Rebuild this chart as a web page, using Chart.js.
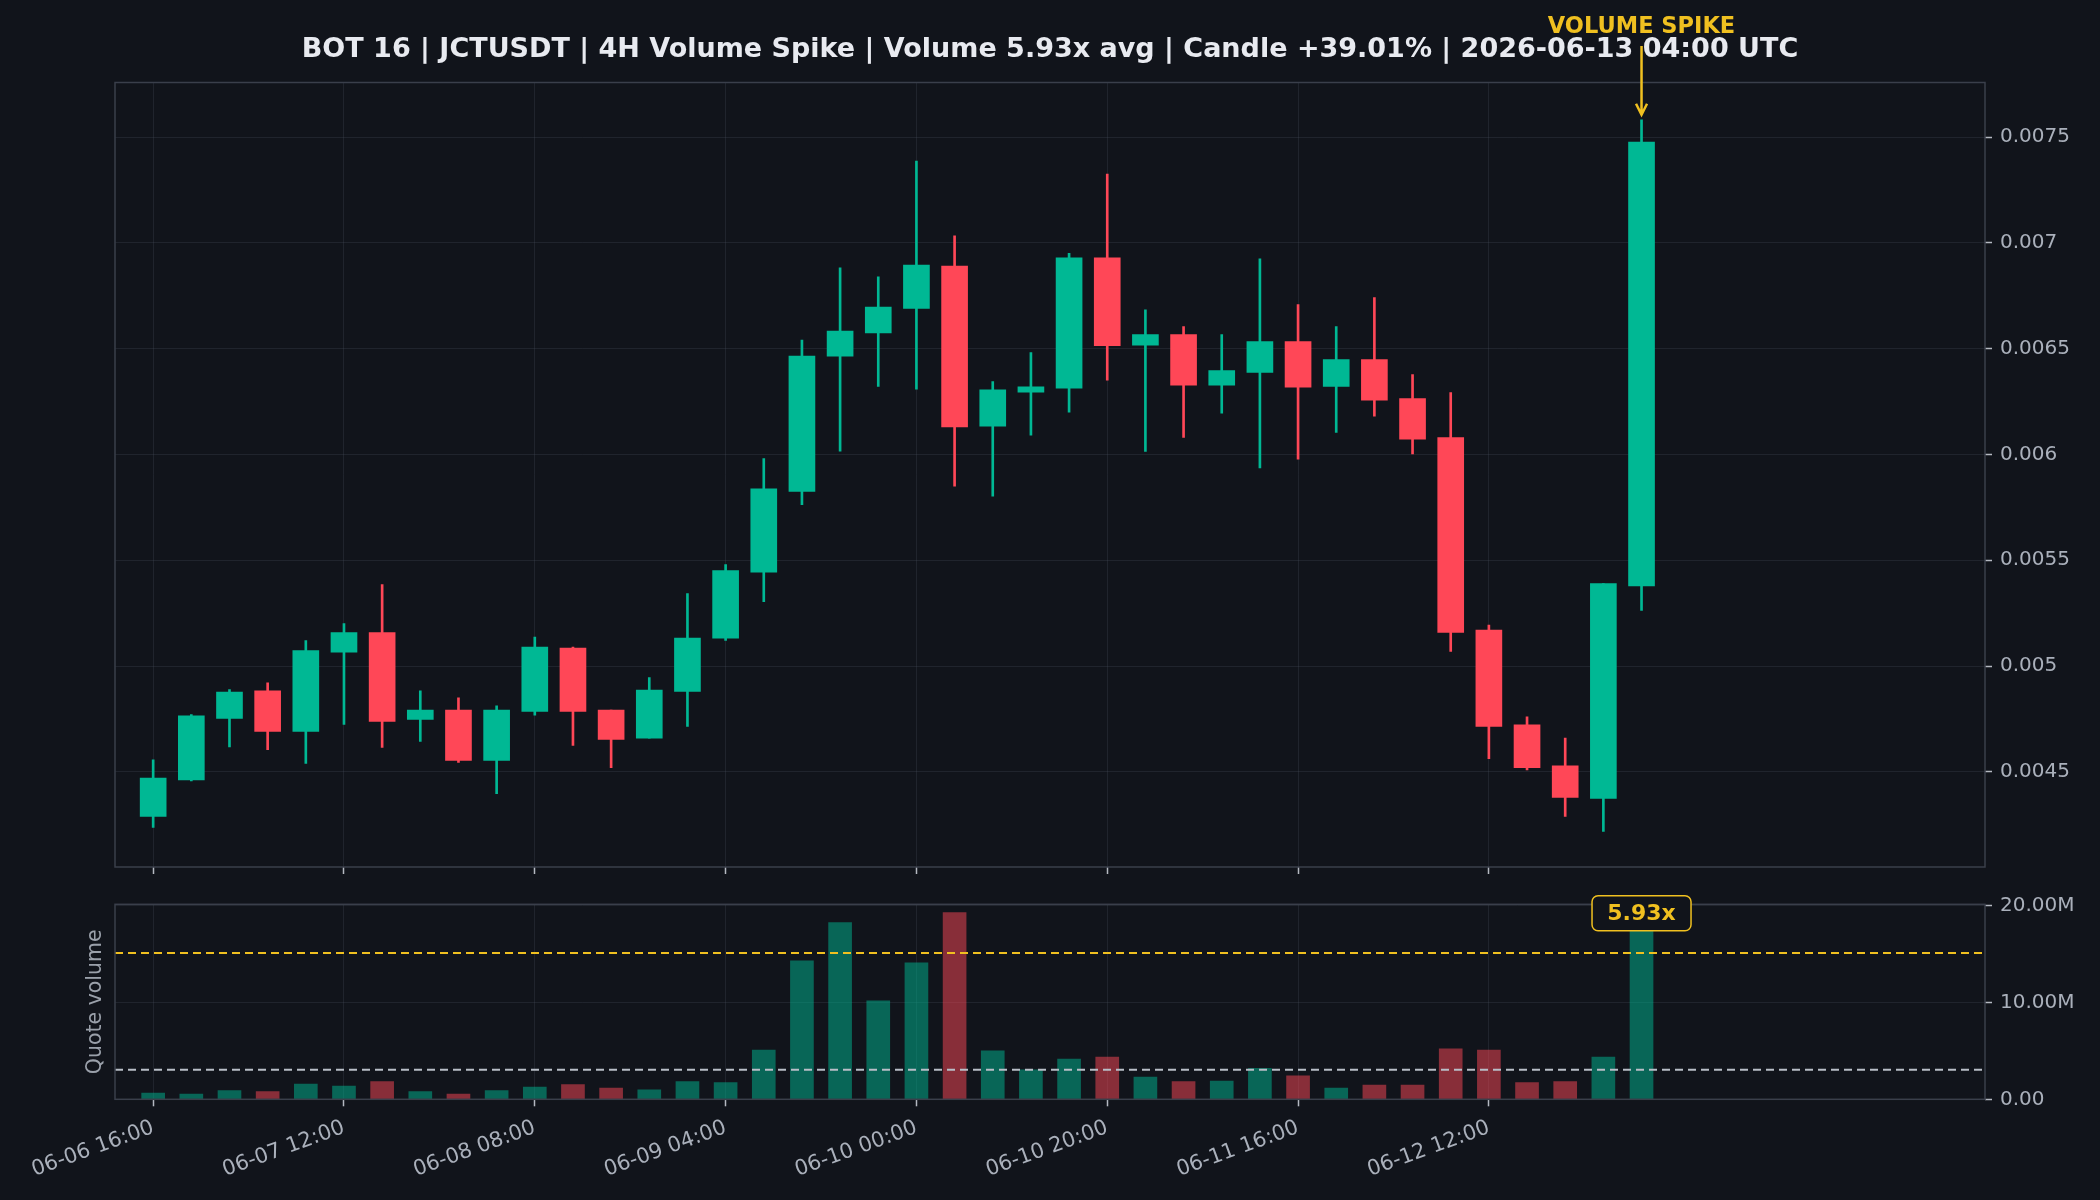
<!DOCTYPE html>
<html>
<head>
<meta charset="utf-8">
<title>JCTUSDT 4H Volume Spike</title>
<script src="https://cdn.jsdelivr.net/npm/chart.js@4.4.1/dist/chart.umd.min.js"></script>
<style>
  html, body { margin: 0; padding: 0; background: #11141b; }
  #wrap { position: relative; width: 2100px; height: 1200px; background: #11141b; overflow: hidden; }
  canvas { position: absolute; left: 0; }
  #priceChart { top: 0; }
  #volumeChart { top: 880px; }
</style>
</head>
<body>
<div id="wrap">
  <canvas id="priceChart" width="2100" height="880"></canvas>
  <canvas id="volumeChart" width="2100" height="320"></canvas>
</div>
<script>
const titleText = "BOT 16 | JCTUSDT | 4H Volume Spike | Volume 5.93x avg | Candle +39.01% | 2026-06-13 04:00 UTC";
const spikeText = "VOLUME SPIKE";
const ratioText = "5.93x";
const volumeAxisTitle = "Quote volume";

// 4H candles, 06-06 16:00 -> 06-13 04:00
const opens = [
  0.004289, 0.004462, 0.004752, 0.004883, 0.004691, 0.005065, 0.005158, 0.004748, 0.004792, 0.004554,
  0.004785, 0.005085, 0.004792, 0.004659, 0.004880, 0.005131, 0.005443, 0.005825, 0.006464, 0.006574,
  0.006690, 0.006890, 0.006134, 0.006294, 0.006313, 0.006929, 0.006516, 0.006566, 0.006327, 0.006388,
  0.006533, 0.006322, 0.006448, 0.006264, 0.006080, 0.005170, 0.004722, 0.004528, 0.004374, 0.005378
];
const highs = [
  0.004557, 0.004770, 0.004888, 0.004921, 0.005120, 0.005200, 0.005385, 0.004883, 0.004850, 0.004812,
  0.005137, 0.005090, 0.004792, 0.004945, 0.005342, 0.005480, 0.005980, 0.006541, 0.006882, 0.006840,
  0.007387, 0.007033, 0.006344, 0.006481, 0.006951, 0.007325, 0.006684, 0.006604, 0.006566, 0.006925,
  0.006708, 0.006604, 0.006741, 0.006377, 0.006292, 0.005194, 0.004760, 0.004659, 0.005390, 0.007582
];
const lows = [
  0.004237, 0.004457, 0.004618, 0.004604, 0.004539, 0.004724, 0.004615, 0.004644, 0.004544, 0.004397,
  0.004768, 0.004625, 0.004520, 0.004659, 0.004715, 0.005121, 0.005304, 0.005763, 0.006016, 0.006322,
  0.006308, 0.005850, 0.005803, 0.006091, 0.006200, 0.006351, 0.006014, 0.006080, 0.006195, 0.005936,
  0.005978, 0.006104, 0.006181, 0.006002, 0.005069, 0.004562, 0.004509, 0.004289, 0.004218, 0.005263
];
const closes = [
  0.004470, 0.004765, 0.004877, 0.004691, 0.005073, 0.005158, 0.004738, 0.004792, 0.004554, 0.004792,
  0.005090, 0.004785, 0.004653, 0.004886, 0.005132, 0.005451, 0.005838, 0.006465, 0.006583, 0.006697,
  0.006895, 0.006130, 0.006305, 0.006320, 0.006929, 0.006514, 0.006566, 0.006327, 0.006396, 0.006533,
  0.006318, 0.006448, 0.006256, 0.006072, 0.005159, 0.004715, 0.004520, 0.004379, 0.005390, 0.007476
];
// quote volume, millions
const quoteVolumeM = [
  0.65, 0.55, 0.89, 0.79, 1.58, 1.37, 1.82, 0.79, 0.55, 0.89,
  1.27, 1.51, 1.17, 0.99, 1.82, 1.72, 5.09, 14.29, 18.25, 10.16,
  14.08, 19.28, 5.00, 3.03, 4.16, 4.37, 2.30, 1.82, 1.89, 3.20,
  2.41, 1.17, 1.48, 1.48, 5.20, 5.09, 1.72, 1.82, 4.37, 17.97
];
const avgVolumeM = 3.05;
const spikeLevelM = 15.1;

const xTickIndex = [0, 5, 10, 15, 20, 25, 30, 35];
const xTickLabels = ["06-06 16:00", "06-07 12:00", "06-08 08:00", "06-09 04:00", "06-10 00:00", "06-10 20:00", "06-11 16:00", "06-12 12:00"];
const priceTicks = [0.0045, 0.005, 0.0055, 0.006, 0.0065, 0.007, 0.0075];
const priceTickLabels = ["0.0045", "0.005", "0.0055", "0.006", "0.0065", "0.007", "0.0075"];
const volumeTicks = [0, 10, 20];
const volumeTickLabels = ["0.00", "10.00M", "20.00M"];

const colorsMap = {
  up: "#00b894",
  down: "#ff4757",
  upVol: "rgba(0,184,148,0.5)",
  downVol: "rgba(255,71,87,0.5)",
  spike: "#f0c020",
  avg: "#b9bec8",
  grid: "rgba(70,76,88,0.3)",
  tickMark: "#b5b9c2",
  frame: "#3a3f4b",
  tickText: "#aab0bb",
  title: "#e8eaf0",
  bg: "#11141b"
};

Chart.defaults.font.family = "'DejaVu Sans', sans-serif";

const isUp = closes.map((c, i) => c >= opens[i]);
const candleColors = isUp.map(u => u ? colorsMap.up : colorsMap.down);
const volumeColors = isUp.map(u => u ? colorsMap.upVol : colorsMap.downVol);
const lastIdx = opens.length - 1;

const framePlugin = {
  id: "frame",
  afterDraw(chart) {
    const a = chart.chartArea;
    const ctx = chart.ctx;
    ctx.save();
    ctx.strokeStyle = colorsMap.frame;
    ctx.lineWidth = 1.5;
    ctx.strokeRect(a.left, a.top, a.right - a.left, a.bottom - a.top);
    ctx.restore();
  }
};

const priceOverlay = {
  id: "priceOverlay",
  afterDraw(chart) {
    const ctx = chart.ctx;
    const x = chart.scales.x.getPixelForValue(lastIdx);
    const tipY = chart.scales.y.getPixelForValue(highs[lastIdx]) - 5;
    ctx.save();
    ctx.textAlign = "center";
    ctx.textBaseline = "alphabetic";
    ctx.fillStyle = colorsMap.title;
    ctx.font = "bold 27px 'DejaVu Sans'";
    ctx.fillText(titleText, 1050, 57);

    ctx.fillStyle = colorsMap.spike;
    ctx.font = "bold 22.5px 'DejaVu Sans'";
    ctx.fillText(spikeText, x, 33);

    ctx.strokeStyle = colorsMap.spike;
    ctx.lineWidth = 2.5;
    ctx.beginPath();
    ctx.moveTo(x, 46);
    ctx.lineTo(x, tipY);
    ctx.moveTo(x - 5.5, tipY - 11);
    ctx.lineTo(x, tipY);
    ctx.lineTo(x + 5.5, tipY - 11);
    ctx.stroke();
    ctx.restore();
  }
};

const volumeOverlay = {
  id: "volumeOverlay",
  afterDraw(chart) {
    const ctx = chart.ctx;
    const a = chart.chartArea;
    const x = chart.scales.x.getPixelForValue(lastIdx);
    const cy = chart.scales.y.getPixelForValue(quoteVolumeM[lastIdx]) - 12;
    const w = 99, h = 35;
    ctx.save();
    ctx.beginPath();
    ctx.roundRect(x - w / 2, cy - h / 2, w, h, 6);
    ctx.fillStyle = colorsMap.bg;
    ctx.fill();
    ctx.strokeStyle = colorsMap.spike;
    ctx.lineWidth = 1.5;
    ctx.stroke();
    ctx.fillStyle = colorsMap.spike;
    ctx.font = "bold 22px 'DejaVu Sans'";
    ctx.textAlign = "center";
    ctx.textBaseline = "middle";
    ctx.fillText(ratioText, x, cy + 1);

    ctx.translate(96, (a.top + a.bottom) / 2);
    ctx.rotate(-Math.PI / 2);
    ctx.fillStyle = "#9aa0aa";
    ctx.font = "20.5px 'DejaVu Sans'";
    ctx.fillText(volumeAxisTitle, 0, 0);
    ctx.restore();
  }
};

function xScaleOptions(showLabels, height) {
  return {
    type: "linear",
    min: -1,
    max: 48,
    offset: false,
    z: 1,
    afterBuildTicks: s => { s.ticks = xTickIndex.map(v => ({ value: v })); },
    afterFit: s => { s.height = height; s.paddingLeft = 0; s.paddingRight = 0; },
    ticks: {
      autoSkip: false,
      minRotation: showLabels ? 20 : 0,
      maxRotation: showLabels ? 20 : 0,
      padding: 9,
      color: colorsMap.tickText,
      font: { size: 21 },
      callback: (v, i) => showLabels ? xTickLabels[i] : ""
    },
    grid: { offset: false, color: colorsMap.grid, lineWidth: 1, drawTicks: true, tickLength: 7, tickColor: colorsMap.tickMark, tickWidth: 1.5 },
    border: { display: false }
  };
}

function yScaleOptions(min, max, tickValues, tickLabels) {
  return {
    position: "right",
    min: min,
    max: max,
    z: 1,
    afterBuildTicks: s => { s.ticks = tickValues.map(v => ({ value: v })); },
    afterFit: s => { s.width = 115; s.paddingTop = 0; s.paddingBottom = 0; },
    ticks: {
      padding: 8,
      color: colorsMap.tickText,
      font: { size: 20 },
      callback: (v, i) => tickLabels[i]
    },
    grid: { color: colorsMap.grid, lineWidth: 1, drawTicks: true, tickLength: 7, tickColor: colorsMap.tickMark, tickWidth: 1.5 },
    border: { display: false }
  };
}

const bodies = opens.map((o, i) => ({ x: i, y: [o, closes[i]] }));
const wicks = lows.map((l, i) => ({ x: i, y: [l, highs[i]] }));

const priceChart = new Chart(document.getElementById("priceChart"), {
  type: "bar",
  data: {
    datasets: [
      { label: "body", data: bodies, backgroundColor: candleColors, barThickness: 26, grouped: false, borderWidth: 0, order: 1 },
      { label: "wick", data: wicks, backgroundColor: candleColors, barThickness: 2, grouped: false, borderWidth: 0, order: 2 }
    ]
  },
  options: {
    responsive: false,
    animation: false,
    layout: { padding: { left: 115, top: 82.5, right: 0, bottom: 0 } },
    plugins: { legend: { display: false }, tooltip: { enabled: false } },
    scales: {
      x: xScaleOptions(false, 13),
      y: yScaleOptions(0.00405, 0.007758, priceTicks, priceTickLabels)
    }
  },
  plugins: [framePlugin, priceOverlay]
});

const volumeChart = new Chart(document.getElementById("volumeChart"), {
  type: "bar",
  data: {
    datasets: [
      {
        type: "line", label: "spike level",
        data: [{ x: -1, y: spikeLevelM }, { x: 48, y: spikeLevelM }],
        borderColor: colorsMap.spike, borderWidth: 2, borderDash: [8, 5], pointRadius: 0, order: 0
      },
      {
        type: "line", label: "average",
        data: [{ x: -1, y: avgVolumeM }, { x: 48, y: avgVolumeM }],
        borderColor: colorsMap.avg, borderWidth: 2, borderDash: [8, 5], pointRadius: 0, order: 0
      },
      {
        label: "quote volume",
        data: quoteVolumeM.map((v, i) => ({ x: i, y: v })),
        backgroundColor: volumeColors, barThickness: 23, grouped: false, borderWidth: 0, order: 2
      }
    ]
  },
  options: {
    responsive: false,
    animation: false,
    layout: { padding: { left: 115, top: 24.3, right: 0, bottom: 0 } },
    plugins: { legend: { display: false }, tooltip: { enabled: false } },
    scales: {
      x: xScaleOptions(true, 100.7),
      y: yScaleOptions(0, 20.13, volumeTicks, volumeTickLabels)
    }
  },
  plugins: [framePlugin, volumeOverlay]
});
</script>
</body>
</html>
